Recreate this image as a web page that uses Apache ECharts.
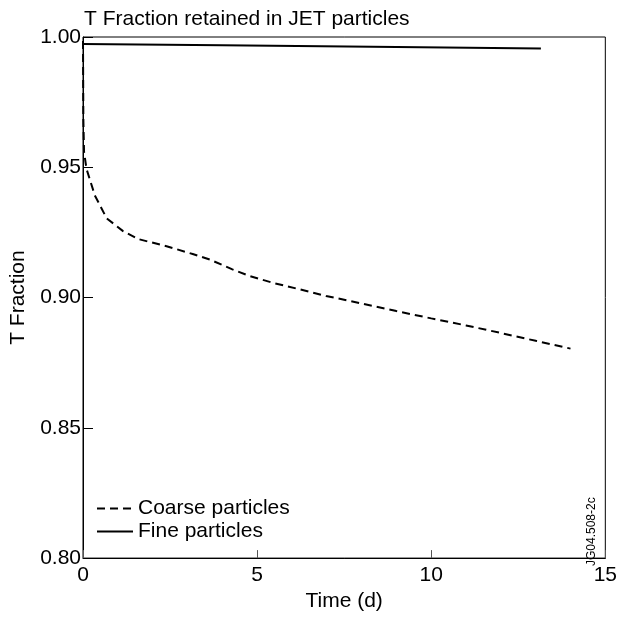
<!DOCTYPE html>
<html>
<head>
<meta charset="utf-8">
<script src="https://cdn.jsdelivr.net/npm/echarts@6/dist/echarts.min.js"></script>
<style>
    html, body { margin: 0; padding: 0; background: #fff; }
    #cn { width: 620px; height: 617px; }
</style>
</head>
<body>
<div id="cn"></div>
<script>
'use strict';

// values: [time (d), T fraction]
const coarseData = [
    [0.00, 0.9985], [0.01, 0.9684], [0.03, 0.9559], [0.10, 0.9494],
    [0.34, 0.9392], [0.68, 0.9304], [1.15, 0.9255], [1.60, 0.9224],
    [2.40, 0.9197], [3.15, 0.9167], [3.64, 0.9146], [4.29, 0.9108],
    [4.78, 0.9083], [5.44, 0.9057], [6.21, 0.9032], [6.98, 0.9006],
    [7.67, 0.8987], [9.00, 0.8948], [10.00, 0.8920], [11.00, 0.8893],
    [12.00, 0.8864], [13.00, 0.8834], [14.00, 0.8804]
];
const fineData = [
    [0.00, 0.9973], [4.00, 0.9968], [9.00, 0.9962], [13.15, 0.9956]
];
const seriesNames = ['Coarse particles', 'Fine particles'];
const titleText = 'T Fraction retained in JET particles';
const xName = 'Time (d)';
const yName = 'T Fraction';
const figCode = 'JG04.508-2c';

const FONT = '"Liberation Sans", Arial, sans-serif';
const FS = 21;
const chart = echarts.init(document.getElementById('cn'));

const option = {
    animation: false,
    backgroundColor: '#fff',
    title: {
        text: titleText,
        left: 79,
        top: 4,
        textStyle: { fontFamily: FONT, fontSize: FS, fontWeight: 'normal', color: '#000' }
    },
    grid: {
        left: 83,
        top: 37,
        width: 523,
        height: 527,
        show: true,
        borderColor: '#000',
        borderWidth: 1
    },
    legend: {
        orient: 'vertical',
        left: 91,
        top: 493,
        itemWidth: 36,
        itemHeight: 14,
        itemGap: 2,
        itemStyle: { opacity: 0 },
        textStyle: { fontFamily: FONT, fontSize: FS, color: '#000' },
        data: seriesNames
    },
    xAxis: {
        type: 'value',
        min: 0,
        max: 15,
        interval: 5,
        name: xName,
        nameLocation: 'middle',
        nameGap: 32,
        nameTextStyle: { fontFamily: FONT, fontSize: FS, color: '#000' },
        axisLine: { lineStyle: { color: '#000', width: 1 } },
        axisTick: { inside: true, length: 8, lineStyle: { color: '#555' } },
        axisLabel: { fontFamily: FONT, fontSize: FS, color: '#000', margin: 7 },
        splitLine: { show: false }
    },
    yAxis: {
        type: 'value',
        min: 0.8,
        max: 1.0,
        interval: 0.05,
        name: yName,
        nameLocation: 'middle',
        nameGap: 54,
        nameTextStyle: { fontFamily: FONT, fontSize: FS, color: '#000' },
        axisLine: { lineStyle: { color: '#000', width: 1 } },
        axisTick: { inside: true, length: 10, lineStyle: { color: '#000' } },
        axisLabel: {
            fontFamily: FONT, fontSize: FS, color: '#000', margin: 2,
            formatter: v => v.toFixed(2)
        },
        splitLine: { show: false }
    },
    graphic: [{
        type: 'text',
        x: 586,
        y: 566,
        rotation: Math.PI / 2,
        style: {
            text: figCode,
            fontFamily: FONT,
            fontSize: 12,
            fill: '#000',
            textAlign: 'left',
            textVerticalAlign: 'top'
        }
    }],
    series: [{
            name: seriesNames[0],
            type: 'line',
            data: coarseData,
            symbol: 'none',
            showSymbol: false,
            lineStyle: { color: '#000', width: 2, type: [8, 5] },
            itemStyle: { color: '#000' }
        },
        {
            name: seriesNames[1],
            type: 'line',
            data: fineData,
            symbol: 'none',
            showSymbol: false,
            lineStyle: { color: '#000', width: 2, type: 'solid' },
            itemStyle: { color: '#000' }
        }
    ]
};

chart.setOption(option);
</script>
</body>
</html>
